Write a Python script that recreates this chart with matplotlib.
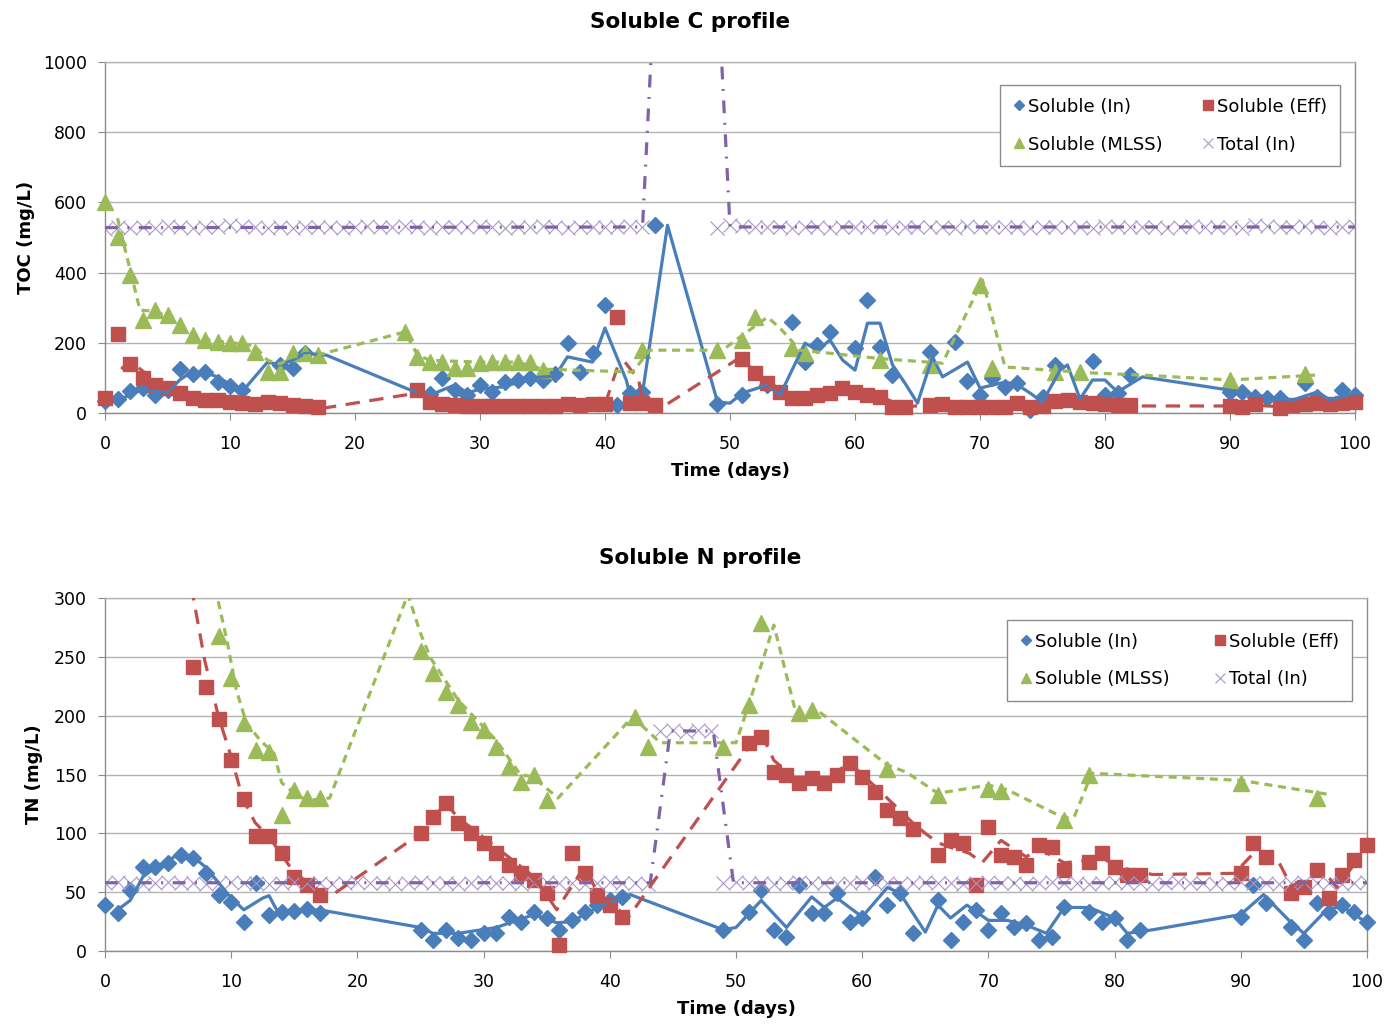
import matplotlib.pyplot as plt

# ---------------- Soluble C (TOC) ----------------
c_in_day = [0, 1, 2, 3, 4, 5, 6, 7, 8, 9, 10, 11, 14, 15, 16,
            26, 27, 28, 29, 30, 31, 32, 33, 34, 35, 36, 37, 38, 39, 40, 41, 42, 43, 44,
            49, 51, 53, 55, 56, 57, 58, 60, 61, 62, 63, 66, 68, 69, 70, 71, 72, 73, 74, 75, 76,
            79, 80, 81, 82, 90, 91, 92, 93, 94, 96, 97, 99, 100]
c_in_val = [35, 40, 62, 72, 50, 65, 125, 112, 117, 88, 76, 65, 137, 128, 170,
            55, 100, 65, 50, 80, 60, 88, 95, 100, 95, 112, 200, 117, 170, 308, 23, 57, 60, 535,
            25, 52, 80, 260, 145, 195, 230, 185, 322, 188, 108, 175, 202, 90, 50, 100, 75, 85, 8, 45, 137,
            148, 50, 57, 108, 60, 60, 45, 42, 42, 85, 45, 65, 50]
c_in_line_day = [1, 2, 3, 4, 5, 6, 7, 8, 9, 10, 11, 13, 14, 15, 16, 17.7, 25, 26, 28, 29, 30, 32,
                 34, 36, 37, 39, 40, 41.7, 42, 43, 45, 49, 50, 51, 53, 54, 56, 57, 58, 59, 60,
                 61, 62, 63, 64, 65, 66.2, 67, 69, 70, 72, 73, 74, 75, 76.4, 77, 78, 79, 80, 81,
                 83, 90, 93, 95, 97, 98, 100]
c_in_line_val = [37, 51, 68, 62, 58, 95, 118, 115, 103, 82, 62, 145, 137, 150, 170, 165, 57, 51, 80,
                 57, 68, 75, 100, 105, 160, 145, 242, 94, 51, 57, 535, 31, 28, 57, 80, 51, 199,
                 179, 208, 151, 122, 256, 256, 137, 85, 28, 160, 103, 145, 71, 88, 80, 57, 31,
                 122, 137, 40, 94, 94, 60, 103, 65, 45, 37, 60, 37, 57]

c_eff_day = [0, 1, 2, 3, 4, 5, 6, 7, 8, 9, 10, 11, 12, 13, 14, 15, 16, 17,
             25, 26, 27, 28, 29, 30, 31, 32, 33, 34, 35, 36, 37, 38, 39, 40, 41, 42, 43, 44,
             51, 52, 53, 54, 55, 56, 57, 58, 59, 60, 61, 62, 63, 64, 66, 67, 68, 69, 70, 71,
             72, 73, 74, 75, 76, 77, 78, 79, 80, 81, 82, 90, 91, 92, 94, 95, 96, 97, 98, 99, 100]
c_eff_val = [43, 225, 140, 100, 80, 71, 57, 43, 37, 37, 30, 28, 25, 31, 28, 23, 20, 18,
             65, 31, 25, 22, 20, 20, 20, 20, 20, 20, 20, 20, 25, 23, 25, 25, 273, 28, 28, 23,
             155, 114, 85, 60, 43, 43, 51, 57, 71, 60, 51, 46, 17, 17, 23, 26, 17, 17, 17, 17,
             17, 28, 17, 20, 35, 38, 30, 28, 25, 22, 24, 20, 18, 25, 15, 22, 25, 28, 25, 28, 30]
c_eff_line_day = [1.3, 2, 3, 4, 5, 6, 7, 8, 9, 10, 11, 12, 13, 14, 15, 16, 17.5, 25, 26, 27, 40,
                  41, 41.6, 42.7, 43, 44.6, 50.5, 51.5, 52.5, 53.5, 54.5, 55.5, 58, 59, 60, 62,
                  63, 64, 66, 72, 76, 78, 80, 82.5, 89.5, 92, 94, 96, 100]
c_eff_line_val = [125, 150, 120, 90, 76, 64, 50, 40, 37, 33, 29, 27, 28, 29, 26, 22, 14, 57, 48, 27,
                  24, 131, 145, 94, 30, 17, 151, 135, 100, 72, 52, 43, 50, 64, 65, 48, 32, 17,
                  24, 20, 30, 34, 27, 20, 20, 22, 18, 25, 28]

c_mlss_day = [0, 1, 2, 3, 4, 5, 6, 7, 8, 9, 10, 11, 12, 13, 14, 15, 16, 17,
              24, 25, 26, 27, 28, 29, 30, 31, 32, 33, 34, 35, 43, 49, 51, 52, 55, 56,
              62, 66, 70, 71, 76, 78, 90, 96]
c_mlss_val = [602, 502, 393, 265, 293, 279, 251, 222, 208, 202, 199, 199, 174, 117, 117, 171, 171, 165,
              231, 160, 145, 145, 128, 128, 142, 145, 145, 145, 145, 122, 179, 179, 208, 273, 185, 171,
              151, 137, 365, 128, 117, 117, 95, 110]
c_mlss_line_day = [1, 2.8, 4, 5, 6, 7, 8, 9, 10, 11, 12, 13, 14, 15, 17, 24, 25, 26, 30, 33, 35,
                   42.2, 43.6, 49.4, 51, 53, 54, 55.6, 57, 62, 67, 70.2, 72, 79, 83, 90, 96.8]
c_mlss_line_val = [555, 293, 290, 275, 250, 225, 210, 205, 200, 198, 190, 150, 140, 160, 165, 231,
                   165, 150, 145, 145, 125, 117, 179, 179, 222, 273, 242, 179, 174, 155, 142, 379,
                   131, 114, 108, 94, 108]

c_tot_day = list(range(0, 44)) + list(range(49, 101))
c_tot_val = [525, 530, 528, 530, 527, 532, 530, 528, 531, 530, 535, 533, 530, 528, 530, 527,
             529, 530, 531, 528, 530, 532, 529, 530, 533, 530, 528, 531, 529, 530, 532, 530,
             528, 531, 530, 533, 530, 528, 530, 531, 529, 530, 532, 530,
             528, 535, 532, 530, 529, 531, 528, 530, 530, 527, 531, 529, 530, 532, 528, 530,
             531, 529, 530, 528, 532, 530, 529, 531, 530, 528, 530, 531, 529, 530, 528, 532,
             530, 529, 531, 530, 528, 530, 533, 531, 529, 530, 528, 535, 532, 530, 529, 534,
             531, 528, 530, 532]
c_tot_line_day = [0, 43, 46.5, 50, 100]
c_tot_line_val = [528, 530, 3000, 530, 530]

# ---------------- Soluble N (TN) ----------------
n_in_day = [0, 1, 2, 3, 4, 5, 6, 7, 8, 9, 10, 11, 12, 13, 14, 15, 16, 17,
            25, 26, 27, 28, 29, 30, 31, 32, 33, 34, 35, 36, 37, 38, 39, 40, 41,
            49, 51, 52, 53, 54, 55, 56, 57, 58, 59, 60, 61, 62, 63, 64, 66, 67, 68, 69, 70,
            71, 72, 73, 74, 75, 76, 78, 79, 80, 81, 82, 90, 91, 92, 94, 95, 96, 97, 98, 99, 100]
n_in_val = [39, 32, 52, 71, 71, 75, 82, 79, 66, 48, 42, 25, 58, 31, 33, 34, 36, 32,
            18, 9, 18, 11, 9, 15, 15, 29, 25, 33, 28, 18, 26, 33, 39, 43, 46,
            18, 33, 52, 18, 12, 56, 32, 32, 49, 25, 28, 63, 39, 49, 15, 43, 9, 25, 35, 18,
            32, 20, 24, 9, 12, 37, 33, 25, 28, 9, 18, 29, 56, 41, 20, 9, 41, 33, 39, 33, 25]
n_in_line_day = [1, 2, 3, 4, 6, 7, 8, 9, 10, 11, 12.5, 13, 13.7, 17, 25, 26, 28, 31, 34, 35.8,
                 37, 39, 41.6, 49, 50, 52, 54, 56, 57, 58, 60, 62, 63, 65, 66, 67, 68.3, 70,
                 71.5, 73, 74.6, 76, 78, 80, 81, 83, 90, 91.8, 94, 95, 96.8, 98, 100]
n_in_line_val = [35, 43, 63, 71, 83, 80, 71, 58, 45, 35, 45, 47, 33, 35, 20, 15, 15, 20, 31, 24,
                 25, 37, 48, 18, 20, 43, 20, 46, 37, 45, 29, 54, 49, 16, 39, 28, 39, 26,
                 26, 22, 15, 37, 37, 28, 15, 18, 31, 48, 24, 15, 35, 38, 24]

n_eff_day = [7, 8, 9, 10, 11, 12, 13, 14, 15, 16, 17,
             25, 26, 27, 28, 29, 30, 31, 32, 33, 34, 35, 36, 37, 38, 39, 40, 41,
             51, 52, 53, 54, 55, 56, 57, 58, 59, 60, 61, 62, 63, 64, 66, 67, 68, 69, 70,
             71, 72, 73, 74, 75, 76, 78, 79, 80, 81, 82, 90, 91, 92, 94, 95, 96, 97, 98, 99, 100]
n_eff_val = [241, 224, 197, 162, 129, 98, 98, 83, 63, 56, 48,
             100, 114, 126, 109, 100, 92, 83, 73, 66, 60, 49, 5, 83, 66, 48, 39, 29,
             177, 182, 152, 150, 143, 147, 143, 150, 160, 148, 135, 120, 113, 104, 82, 94, 92, 56, 105,
             82, 80, 73, 90, 88, 69, 76, 83, 71, 65, 65, 66, 92, 80, 49, 54, 69, 45, 65, 77, 90]
n_eff_line_day = [6.5, 7.9, 9, 10, 10.9, 11.9, 13, 14.7, 16, 17.8, 25, 27, 27.9, 34, 35.8, 38, 39,
                  40, 41.5, 49, 51, 52, 53, 55, 57, 59, 61, 64, 65, 66, 67, 68.5, 69.5, 71, 73,
                  74, 76, 78, 79, 80, 83, 89.5, 91, 92.8, 94, 96.5, 97.6, 98.8, 99.4]
n_eff_line_val = [330, 247, 199, 165, 130, 109, 97, 71, 58, 46, 100, 126, 114, 63, 35, 72, 50,
                  40, 29, 143, 173, 185, 162, 144, 145, 160, 140, 109, 100, 92, 88, 83, 75, 94,
                  80, 87, 75, 77, 80, 72, 65, 66, 83, 80, 55, 69, 54, 71, 83]

n_mlss_day = [9, 10, 11, 12, 13, 14, 15, 16, 17, 25, 26, 27, 28, 29, 30, 31, 32, 33, 34, 35,
              42, 43, 49, 51, 52, 55, 56, 62, 66, 70, 71, 76, 78, 90, 96]
n_mlss_val = [268, 232, 194, 171, 169, 116, 137, 130, 130, 255, 236, 220, 209, 195, 188, 173, 156,
              144, 150, 128, 199, 173, 173, 209, 279, 202, 205, 155, 133, 138, 136, 111, 150, 143, 130]
n_mlss_line_day = [8.5, 9.7, 10.4, 11.2, 12.3, 13.4, 14, 15, 16, 17.8, 24, 25, 25.8, 28, 31, 32.9,
                   33.9, 35.9, 41.8, 44, 50, 51, 53, 54.8, 56.4, 62, 63.5, 66, 70, 71.5, 76, 76.8,
                   78.2, 90, 97]
n_mlss_line_val = [320, 262, 222, 194, 179, 168, 143, 134, 128, 130, 303, 270, 249, 213, 179, 150,
                   148, 130, 199, 177, 177, 209, 277, 200, 205, 158, 152, 134, 141, 137, 113, 114,
                   151, 145, 133]

n_tot_day = list(range(0, 101))
n_tot_val = [58, 59, 58, 57, 58, 59, 58, 58, 57, 58, 59, 58, 58, 57, 58, 59, 58, 58, 57, 58,
             59, 58, 58, 57, 58, 59, 58, 58, 57, 58, 59, 58, 58, 57, 58, 59, 58, 58, 57, 58,
             59, 58, 58, 57, 187, 188, 186, 188, 187, 58, 59, 58, 58, 57, 58, 59, 58, 58, 57, 58,
             59, 58, 58, 57, 58, 59, 58, 58, 57, 58, 59, 58, 58, 57, 58, 59, 58, 58, 57, 58,
             59, 58, 58, 57, 58, 59, 58, 58, 57, 58, 59, 58, 58, 57, 58, 59, 58, 58, 57, 58, 59]
n_tot_line_day = [0, 43.2, 44.8, 48.2, 49.8, 100]
n_tot_line_val = [58, 58, 187, 187, 58, 58]

BLUE = '#4a7ebb'
RED = '#c0504d'
GREEN = '#9bbb59'
PURPLE = '#7f63a6'
XCOL = '#a898c8'
GRID = '#b3b3b3'
SPINE = '#8c8c8c'


def draw(ax, data, ymax, ystep):
    (in_d, in_v, in_ld, in_lv, eff_d, eff_v, eff_ld, eff_lv,
     ml_d, ml_v, ml_ld, ml_lv, tot_d, tot_v, tot_ld, tot_lv) = data
    h_in, = ax.plot(in_d, in_v, ls='none', marker='D', ms=8.3, color=BLUE, clip_on=False, zorder=3)
    h_eff, = ax.plot(eff_d, eff_v, ls='none', marker='s', ms=10.5, color=RED, clip_on=False, zorder=3)
    h_ml, = ax.plot(ml_d, ml_v, ls='none', marker='^', ms=11, color=GREEN, clip_on=False, zorder=3)
    h_tot, = ax.plot(tot_d, tot_v, ls='none', marker='x', ms=10.5, mew=0.8, color=XCOL, zorder=3)
    ax.plot(in_ld, in_lv, color=BLUE, lw=2.3, zorder=4)
    ax.plot(eff_ld, eff_lv, color=RED, lw=2.3, dashes=(4.5, 3), zorder=4)
    ax.plot(ml_ld, ml_lv, color=GREEN, lw=2.3, dashes=(2.5, 1.8), zorder=4)
    ax.plot(tot_ld, tot_lv, color=PURPLE, lw=2.3, dashes=(4, 3, 0.6, 3), zorder=4)

    ax.set_xlim(0, 100)
    ax.set_ylim(0, ymax)
    ax.set_xticks(range(0, 101, 10))
    ax.set_yticks(range(0, ymax + 1, ystep))
    ax.yaxis.grid(True, color=GRID, lw=1)
    ax.set_axisbelow(True)
    for s in ax.spines.values():
        s.set_color(SPINE)
        s.set_linewidth(1)
    ax.spines['top'].set_color(GRID)
    ax.tick_params(direction='out', length=5, color=SPINE, labelsize=12.5)
    ax.tick_params(axis='x', pad=11)
    ax.tick_params(axis='y', pad=8)
    ax.set_xlabel('Time (days)', fontsize=13, fontweight='bold', labelpad=6)
    return [h_in, h_ml, h_eff, h_tot]


fig = plt.figure(figsize=(13.85, 10.25), dpi=100)
ax1 = fig.add_axes([105 / 1385, 1 - 413 / 1025, 1250 / 1385, 351 / 1025])
ax2 = fig.add_axes([105 / 1385, 1 - 951 / 1025, 1262 / 1385, 353 / 1025])

hc = draw(ax1, (c_in_day, c_in_val, c_in_line_day, c_in_line_val,
                c_eff_day, c_eff_val, c_eff_line_day, c_eff_line_val,
                c_mlss_day, c_mlss_val, c_mlss_line_day, c_mlss_line_val,
                c_tot_day, c_tot_val, c_tot_line_day, c_tot_line_val), 1000, 200)
hn = draw(ax2, (n_in_day, n_in_val, n_in_line_day, n_in_line_val,
                n_eff_day, n_eff_val, n_eff_line_day, n_eff_line_val,
                n_mlss_day, n_mlss_val, n_mlss_line_day, n_mlss_line_val,
                n_tot_day, n_tot_val, n_tot_line_day, n_tot_line_val), 300, 50)

ax1.set_ylabel('TOC (mg/L)', fontsize=13, fontweight='bold', labelpad=6)
ax2.set_ylabel('TN (mg/L)', fontsize=13, fontweight='bold', labelpad=8)

# legend boxes (axes fractions: left, top, width)
labels = ['Soluble (In)', 'Soluble (MLSS)', 'Soluble (Eff)', 'Total (In)']
for ax, h, box in ((ax1, hc, (0.716, 0.934, 0.272)), (ax2, hn, (0.715, 0.938, 0.273))):
    leg = ax.legend(h, labels, ncol=2, loc='upper left', mode='expand',
                    bbox_to_anchor=(box[0], box[1], box[2], 0),
                    borderaxespad=0, fontsize=13, markerscale=0.65, handlelength=0.7,
                    handletextpad=0.15, columnspacing=0.7, labelspacing=1.1, borderpad=0.7,
                    fancybox=False, framealpha=1, edgecolor=SPINE)
    leg.get_frame().set_linewidth(1)

fig.text(690 / 1385, 1 - 22 / 1025, 'Soluble C profile', ha='center', va='center',
         fontsize=15.5, fontweight='bold')
fig.text(700 / 1385, 1 - 558 / 1025, 'Soluble N profile', ha='center', va='center',
         fontsize=15.5, fontweight='bold')

fig.savefig('out.png', dpi=100)
